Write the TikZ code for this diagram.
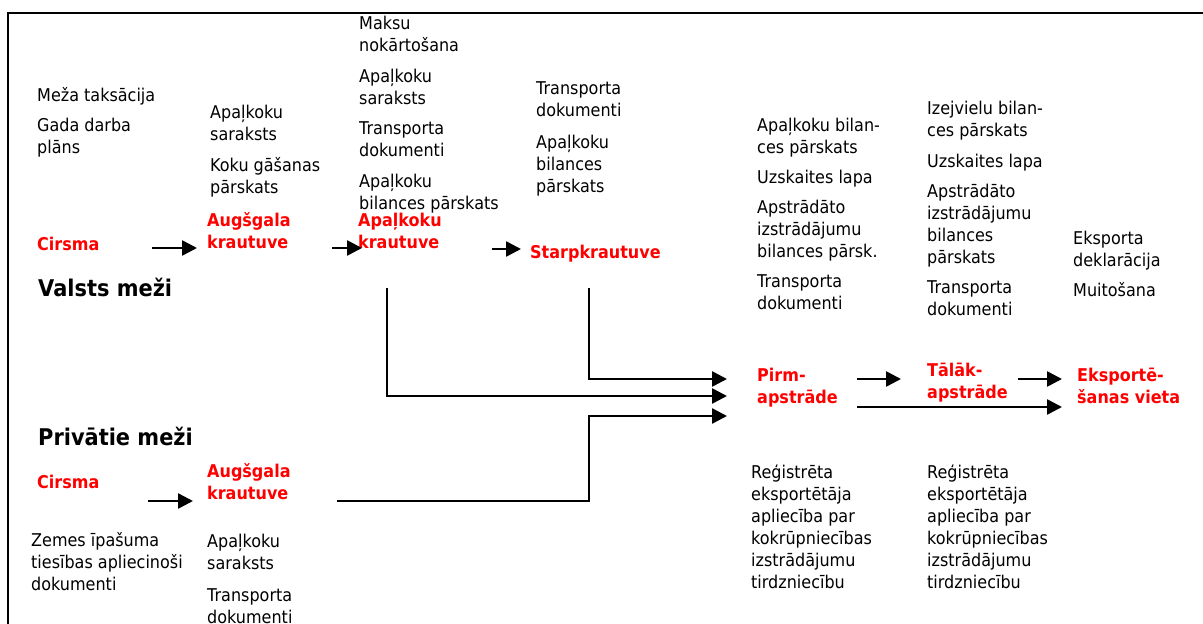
\documentclass[tikz,border=0pt]{standalone}
\usepackage{fontspec}
\setmainfont[FakeStretch=0.91]{DejaVu Sans}
\usetikzlibrary{arrows.meta}

\tikzset{
  DocStyle/.style = {anchor=base west, inner sep=0pt, align=left, font=\fontsize{17.6}{22}\selectfont},
  StageStyle/.style = {DocStyle, font=\fontsize{17.6}{21.5}\selectfont\bfseries, text=red},
  ForestStyle/.style = {DocStyle, font=\fontsize{23}{25}\selectfont\bfseries},
  EdgeStyle/.style = {line width=2.6pt, -{Triangle[length=15pt,width=15pt]}}
}

\begin{document}
\begin{tikzpicture}[x=1pt,y=-1pt]
    \useasboundingbox (0,0) rectangle (1203,624);
    \draw[line width=2pt] (1203,13) -- (8,13) -- (8,624);

    \node[DocStyle] (vD1) at (37,153) {Meža taksācija\\[8pt]Gada darba\\plāns};
    \node[DocStyle] (vD2) at (210,193) {Apaļkoku\\saraksts\\[9pt]Koku gāšanas\\pārskats};
    \node[DocStyle] (vD3) at (359,209) {Maksu\\nokārtošana\\[9pt]Apaļkoku\\saraksts\\[8pt]Transporta\\dokumenti\\[9pt]Apaļkoku\\bilances pārskats};
    \node[DocStyle] (vD4) at (536,192) {Transporta\\dokumenti\\[10pt]Apaļkoku\\bilances\\pārskats};
    \node[DocStyle] (kD1) at (757,309) {Apaļkoku bilan-\\ces pārskats\\[8pt]Uzskaites lapa\\[8pt]Apstrādāto\\izstrādājumu\\bilances pārsk.\\[8pt]Transporta\\dokumenti};
    \node[DocStyle] (kD2) at (927,315) {Izejvielu bilan-\\ces pārskats\\[9pt]Uzskaites lapa\\[8pt]Apstrādāto\\izstrādājumu\\bilances\\pārskats\\[8pt]Transporta\\dokumenti};
    \node[DocStyle] (kD3) at (1073,296) {Eksporta\\deklarācija\\[8pt]Muitošana};
    \node[DocStyle] (kD4) at (751,588) {Reģistrēta\\eksportētāja\\apliecība par\\kokrūpniecības\\izstrādājumu\\tirdzniecību};
    \node[DocStyle] (kD5) at (927,588) {Reģistrēta\\eksportētāja\\apliecība par\\kokrūpniecības\\izstrādājumu\\tirdzniecību};
    \node[DocStyle] (pD1) at (31,590) {Zemes īpašuma\\tiesības apliecinoši\\dokumenti};
    \node[DocStyle] (pD2) at (207,623) {Apaļkoku\\saraksts\\[10pt]Transporta\\dokumenti};

    \node[ForestStyle] (vF) at (38,296) {Valsts meži};
    \node[ForestStyle] (pF) at (38,445) {Privātie meži};

    \node[StageStyle] (vC) at (37,250) {Cirsma};
    \node[StageStyle] (vA) at (207,248) {Augšgala\\krautuve};
    \node[StageStyle] (vK) at (358,248) {Apaļkoku\\krautuve};
    \node[StageStyle] (vS) at (530,258) {Starpkrautuve};
    \node[StageStyle] (kP) at (757,403) {Pirm-\\apstrāde};
    \node[StageStyle] (kT) at (927,398) {Tālāk-\\apstrāde};
    \node[StageStyle] (kE) at (1077,403) {Eksportē-\\šanas vieta};
    \node[StageStyle] (pC) at (37,488) {Cirsma};
    \node[StageStyle] (pA) at (207,499) {Augšgala\\krautuve};

    \coordinate (v1) at (152,248);
    \coordinate (v2) at (332,248);
    \coordinate (v3) at (492,249);
    \coordinate (p1) at (148,501);
    \draw[EdgeStyle, shorten >=10pt] (v1) -- (vA.west |- v1);
    \draw[EdgeStyle, shorten >=-4pt] (v2) -- (vK.west |- v2);
    \draw[EdgeStyle, shorten >=9pt] (v3) -- (vS.west |- v3);
    \draw[EdgeStyle, shorten >=14pt] (p1) -- (pA.west |- p1);

    \coordinate (L1) at (387,288);
    \coordinate (L1b) at (387,396);
    \coordinate (L2) at (589,288);
    \coordinate (L2b) at (589,379);
    \coordinate (L3) at (337,501);
    \coordinate (L3b) at (589,501);
    \coordinate (L3c) at (589,416);
    \draw[EdgeStyle, shorten >=30pt] (L1) -- (L1b) -- (kP.west |- L1b);
    \draw[EdgeStyle, shorten >=30pt] (L2) -- (L2b) -- (kP.west |- L2b);
    \draw[EdgeStyle, shorten >=30pt] (L3) -- (L3b) -- (L3c) -- (kP.west |- L3c);

    \coordinate (a1) at (857,379);
    \coordinate (a2) at (1018,379);
    \coordinate (a3) at (857,407);
    \draw[EdgeStyle, shorten >=26pt] (a1) -- (kT.west |- a1);
    \draw[EdgeStyle, shorten >=15pt] (a2) -- (kE.west |- a2);
    \draw[EdgeStyle, shorten >=15pt] (a3) -- (kE.west |- a3);
\end{tikzpicture}
\end{document}
